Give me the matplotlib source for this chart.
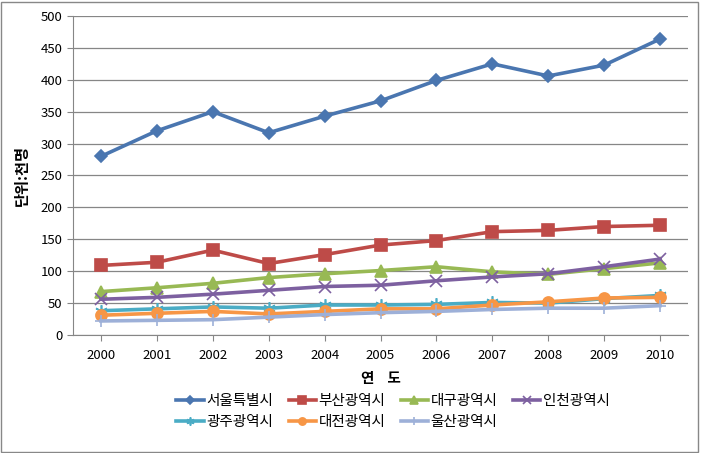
import matplotlib.pyplot as plt
from matplotlib.patches import Rectangle

plt.rcParams['font.family'] = ['Noto Sans CJK KR', 'DejaVu Sans']

years = [2000, 2001, 2002, 2003, 2004, 2005, 2006, 2007, 2008, 2009, 2010]
seoul = [280, 320, 350, 317, 343, 367, 399, 425, 406, 423, 464]
busan = [109, 114, 133, 112, 126, 141, 148, 162, 164, 170, 172]
daegu = [68, 74, 81, 90, 96, 101, 107, 99, 95, 104, 113]
incheon = [56, 59, 64, 70, 76, 78, 85, 91, 96, 107, 119]
gwangju = [38, 41, 44, 42, 47, 47, 48, 51, 50, 57, 62]
daejeon = [31, 34, 37, 33, 37, 41, 41, 47, 52, 58, 59]
ulsan = [22, 23, 24, 28, 32, 35, 37, 40, 42, 42, 46]

names = ['서울특별시', '부산광역시', '대구광역시', '인천광역시', '광주광역시', '대전광역시', '울산광역시']
series = [seoul, busan, daegu, incheon, gwangju, daejeon, ulsan]
colors = ['#4A76B0', '#BE4B48', '#98B954', '#7D60A0', '#4AACC5', '#F79646', '#9DB0D8']
markers = ['D', 's', '^', 'x', (6, 2, 0), 'o', '+']
msizes = [6, 8, 8, 8, 9, 8, 9]

fig = plt.figure(figsize=(7.03, 4.53), dpi=100)
ax = fig.add_axes([0.1038, 0.2605, 0.875, 0.7042])

x = list(range(len(years)))
handles = []
for s, name, c, m, ms in zip(series, names, colors, markers, msizes):
    h, = ax.plot(x, s, color=c, lw=2.6, marker=m, markersize=ms,
                 markerfacecolor=c, markeredgecolor=c, markeredgewidth=1.2, label=name)
    handles.append(h)

ax.set_xlim(-0.5, 10.5)
ax.set_ylim(0, 500)
ax.set_yticks(range(0, 501, 50))
ax.set_xticks(x)
ax.set_xticklabels([str(y) for y in years])
ax.grid(axis='y', color='#868686', lw=0.9)
ax.set_axisbelow(True)
for sp in ['top', 'right']:
    ax.spines[sp].set_visible(False)
for sp in ['left', 'bottom']:
    ax.spines[sp].set_color('#868686')
ax.tick_params(axis='both', colors='#868686', labelcolor='black', labelsize=9.5, length=4)
ax.tick_params(axis='x', pad=6)

ax.set_xlabel('연    도', fontsize=10.5, fontweight='bold', labelpad=6)
ax.set_ylabel('단위:천명', fontsize=11, fontweight='bold', labelpad=8)

order = [0, 4, 1, 5, 2, 6, 3]
fig.legend([handles[i] for i in order], [names[i] for i in order], ncol=4,
           loc='center', bbox_to_anchor=(0.559, 0.092), frameon=False,
           fontsize=10.5, handlelength=1.9, columnspacing=1.05, handletextpad=0.15,
           labelspacing=0.45, markerscale=0.65)

fig.add_artist(Rectangle((0.0015, 0.003), 0.991, 0.993, transform=fig.transFigure,
                         fill=False, edgecolor='#888888', lw=1))

fig.savefig('out.png', dpi=100)
